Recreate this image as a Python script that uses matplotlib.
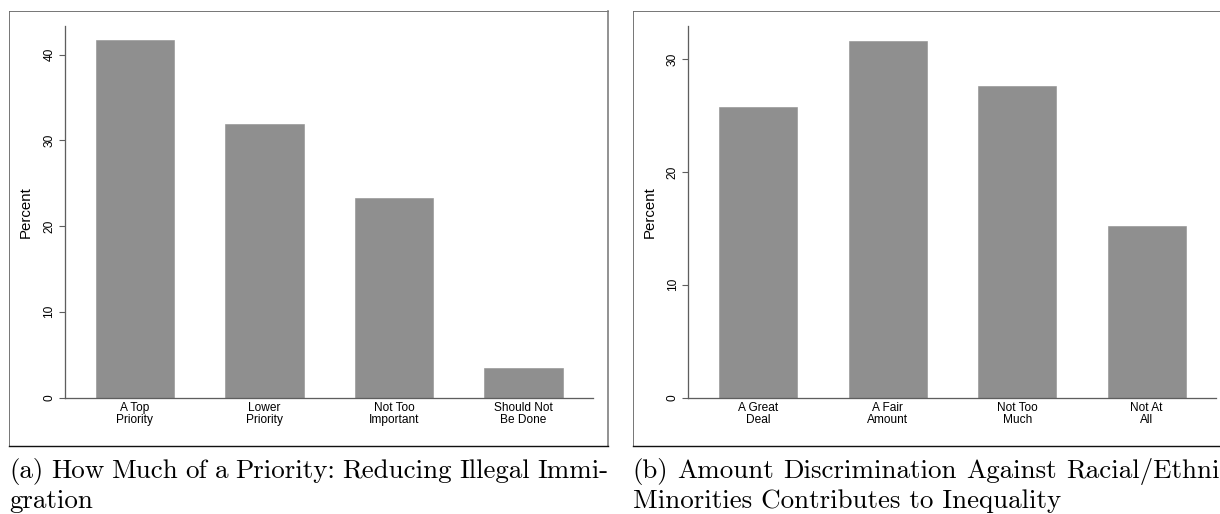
import matplotlib
matplotlib.use("Agg")
import matplotlib.pyplot as plt
from matplotlib.lines import Line2D

# ---- data -------------------------------------------------------------
priority_labels = ["A Top\nPriority", "Lower\nPriority", "Not Too\nImportant", "Should Not\nBe Done"]
priority_pct = [41.7, 31.9, 23.3, 3.4]
priority_ticks = [0, 10, 20, 30, 40]
priority_caption = ["(a) How Much of a Priority: Reducing Illegal Immi-", "gration"]

discrim_labels = ["A Great\nDeal", "A Fair\nAmount", "Not Too\nMuch", "Not At\nAll"]
discrim_pct = [25.75, 31.6, 27.6, 15.25]
discrim_ticks = [0, 10, 20, 30]
discrim_caption = ["(b) Amount Discrimination Against Racial/Ethnic", "Minorities Contributes to Inequality"]

# ---- figure geometry (pixels) ----------------------------------------
W, H = 1220, 514
fig = plt.figure(figsize=(W / 100, H / 100), dpi=100)
fig.patch.set_facecolor("white")

SANS = "Liberation Sans"
SERIF = "cmr10"
BAR = "#8f8f8f"
AXC = "#5e5e5e"
COLW = 599  # width of one sub-figure column


def fx(px):
    return px / W


def fy(py):
    return 1 - py / H


def pt(px):
    return px * 0.72


def frame(x0, x1, y0, y1):
    segs = [
        ((x0, x0), (y0, y1), "#6a6a6a", 0.9),   # left
        ((x0, x1), (y0, y0), "#6a6a6a", 0.9),   # top
        ((x1, x1), (y0, y1), "#7a7a7a", 1.6),   # right
        ((x0, x1), (y1, y1), "#111111", 1.4),   # bottom
    ]
    for xs, ys, c, lw in segs:
        fig.add_artist(Line2D([fx(v) for v in xs], [fy(v) for v in ys],
                              transform=fig.transFigure, color=c, lw=pt(lw)))


def text_width(s, size):
    r = fig.canvas.get_renderer()
    t = fig.text(0, 0, s, fontname=SERIF, fontsize=size)
    w = t.get_window_extent(r).width
    t.remove()
    return w


# caption size: a full caption line fills one column at natural spacing
CAP_SIZE = 18 * COLW / text_width(discrim_caption[0], 18)


def justified(words, x0, width, ybase, size):
    r = fig.canvas.get_renderer()
    arts = [fig.text(0, fy(ybase), w, va="baseline", ha="left",
                     fontname=SERIF, fontsize=size, color="black") for w in words]
    widths = [a.get_window_extent(r).width for a in arts]
    gap = (width - sum(widths)) / (len(words) - 1)
    x = x0
    for a, w in zip(arts, widths):
        a.set_x(fx(x))
        x += w + gap


def panel(offset, labels, values, ticks, ytop, caption):
    frame(9.3 + offset, 608.3 + offset, 10.7, 446)

    ax_l, ax_r, ax_t, ax_b = 65 + offset, 592.7 + offset, 26, 397.5
    ax = fig.add_axes([fx(ax_l), fy(ax_b), fx(ax_r - ax_l), (ax_b - ax_t) / H])
    ax.set_facecolor("white")
    pos = list(range(1, len(values) + 1))
    ax.bar(pos, values, width=0.605, color=BAR, edgecolor=BAR, linewidth=0.4, zorder=1)
    ax.set_xlim(0.46, 4.535)
    ax.set_ylim(0, ytop)

    for s in ("top", "right"):
        ax.spines[s].set_visible(False)
    for s in ("left", "bottom"):
        ax.spines[s].set_color(AXC)
        ax.spines[s].set_linewidth(pt(1.3))

    ax.set_yticks(ticks)
    ax.set_yticklabels([str(t) for t in ticks], rotation=90, va="center",
                       fontname=SANS, fontsize=8.6)
    ax.tick_params(axis="y", length=pt(6), width=pt(1.1), color=AXC, pad=2.5)

    ax.set_xticks(pos)
    ax.set_xticklabels(labels, fontname=SANS, fontsize=8.6, linespacing=0.95)
    ax.tick_params(axis="x", length=0, pad=3.5)

    ax.set_ylabel("Percent", fontname=SANS, fontsize=10.8)
    ax.yaxis.set_label_coords((33 + offset - ax_l) / (ax_r - ax_l), 0.5)

    justified(caption[0].split(" "), 9.3 + offset, COLW, 478, CAP_SIZE)
    fig.text(fx(9.3 + offset), fy(508), caption[1], va="baseline", ha="left",
             fontname=SERIF, fontsize=CAP_SIZE, color="black")


panel(0, priority_labels, priority_pct, priority_ticks, 43.35, priority_caption)
panel(623.3, discrim_labels, discrim_pct, discrim_ticks, 32.95, discrim_caption)

fig.savefig("out.png", dpi=100, facecolor="white")
